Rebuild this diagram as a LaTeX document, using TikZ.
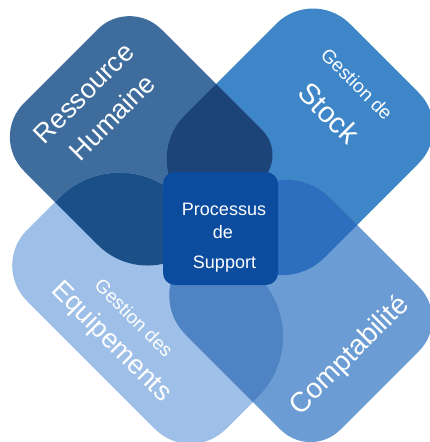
\documentclass[tikz,border=0pt]{standalone}
\usepackage{fontspec}
\setmainfont{Liberation Sans}
\definecolor{tlc}{RGB}{62,108,156}
\definecolor{trc}{RGB}{62,134,200}
\definecolor{blc}{RGB}{158,191,231}
\definecolor{brc}{RGB}{107,156,212}
\definecolor{toppet}{RGB}{28,68,121}
\definecolor{leftpet}{RGB}{26,79,135}
\definecolor{rightpet}{RGB}{45,111,190}
\definecolor{botpet}{RGB}{78,132,196}
\definecolor{centc}{RGB}{11,76,159}
% a b c d : edges x+y=a, x-y=b, x+y=c, x-y=d ; radii at top, right, bottom, left
\newcommand{\shapepath}[8]{%
 ({(#1+(#2))/2-0.70711*#5},{(#1-(#2))/2+0.70711*#5}) arc[start angle=225,end angle=315,radius=#5]
 -- ({(#2+(#3))/2-0.70711*#6},{(#3-(#2))/2-0.70711*#6}) arc[start angle=-45,end angle=45,radius=#6]
 -- ({(#3+(#4))/2+0.70711*#7},{(#3-(#4))/2-0.70711*#7}) arc[start angle=45,end angle=135,radius=#7]
 -- ({(#1+(#4))/2+0.70711*#8},{(#1-(#4))/2+0.70711*#8}) arc[start angle=135,end angle=225,radius=#8]
 -- cycle}
\newcommand{\TLpath}{\shapepath{127}{132}{442}{-147}{45}{35}{70}{48}}
\newcommand{\TRpath}{\shapepath{300}{326}{582}{-18}{52}{50}{60}{62}}
\newcommand{\BRpath}{\shapepath{442}{132}{770}{-149}{60}{45}{42}{55}}
\newcommand{\BLpath}{\shapepath{257}{-18}{655}{-274}{85}{85}{50}{50}}
\tikzset{
  lbl/.style={text=white, inner sep=0pt, anchor=center},
  big/.style={font=\fontsize{27}{30}\selectfont},
  small/.style={font=\fontsize{19}{22}\selectfont},
  mid/.style={font=\fontsize{18}{21}\selectfont, text=white, inner sep=0pt, anchor=base}
}
\begin{document}
\begin{tikzpicture}[x=1pt,y=-1pt]
\useasboundingbox (0,0) rectangle (430,442);
\clip (0,0) rectangle (430,442);
% base shapes
\fill[tlc] \TLpath;
\fill[trc] \TRpath;
\fill[brc] \BRpath;
\fill[blc] \BLpath;
% overlaps
\begin{scope}\clip \TLpath; \fill[toppet] \TRpath; \end{scope}
\begin{scope}\clip \TLpath; \fill[leftpet] \BLpath; \end{scope}
\begin{scope}\clip \TRpath; \fill[rightpet] \BRpath; \end{scope}
\begin{scope}\clip \BLpath; \fill[botpet] \BRpath; \end{scope}
% centre
\node[fill=centc, rounded corners=12pt, minimum width=115pt, minimum height=113pt, inner sep=0pt] (centre) at (220.5,228.5) {};
\node[mid] (p1) at (224,215) {Processus};
\node[mid] (p2) at (223,238) {de};
\node[mid] (p3) at (224.5,268) {Support};
% labels
\node[lbl, big, rotate=45] (rh1) at (84,93) {Ressource};
\node[lbl, big, rotate=45] (rh2) at (112,117) {Humaine};
\node[lbl, small, rotate=-45] (gs1) at (357,84) {Gestion de};
\node[lbl, font=\fontsize{29}{32}\selectfont, rotate=-45] (gs2) at (329,113) {Stock};
\node[lbl, small, rotate=-45] (ge1) at (134,318) {Gestion des};
\node[lbl, big, rotate=-45] (ge2) at (111,342) {Equipements};
\node[lbl, font=\fontsize{28}{31}\selectfont, rotate=45] (cp) at (350,356) {Comptabilité};
\end{tikzpicture}
\end{document}
